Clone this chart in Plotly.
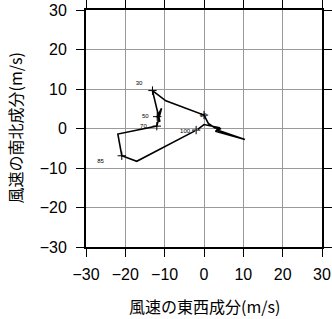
import plotly.graph_objects as go

# Hodograph wind components (m/s)
u_wind = [-2.3, -17.1, -20.9, -21.9, -12.0, -10.8, -11.9, -11.2, -13.1, -9.7, 0.0, 1.1, 2.8, 4.3, 2.9, 10.4, 3.2, 4.0, 0.0, -1.6]
v_wind = [-0.6, -8.3, -6.9, -1.4, 0.6, 5.1, 3.0, 1.7, 9.6, 7.0, 3.4, 1.3, 0.15, 0.0, -0.7, -2.8, -0.3, 0.2, 1.0, -0.2]

# Level labels (pressure / 10 hPa) and their positions
level_labels = ["100", "85", "70", "50", "30", "10"]
level_u = [-2.0, -20.9, -12.0, -11.9, -13.1, 0.0]
level_v = [-0.4, -6.9, 0.6, 3.0, 9.6, 3.4]
label_u = [-4.8, -26.3, -15.4, -14.9, -16.5, -0.2]
label_v = [-0.7, -8.3, 0.6, 3.1, 11.3, 3.4]

ticks = [-30, -20, -10, 0, 10, 20, 30]

fig = go.Figure()
fig.add_trace(go.Scatter(x=u_wind, y=v_wind, mode="lines",
                         line=dict(color="black", width=1.6), hoverinfo="skip"))
fig.add_trace(go.Scatter(x=level_u, y=level_v, mode="markers",
                         marker=dict(symbol="cross-thin", size=6, color="black",
                                     line=dict(color="black", width=1)),
                         hoverinfo="skip"))
fig.add_trace(go.Scatter(x=label_u, y=label_v, mode="text", text=level_labels,
                         textfont=dict(size=6, color="black", family="Liberation Sans"),
                         hoverinfo="skip"))

axis_common = dict(
    range=[-30, 30], tickvals=ticks, ticks="outside", ticklen=8, tickwidth=1,
    tickcolor="black", showline=True, linecolor="black", linewidth=2,
    mirror="ticks", showgrid=True, gridcolor="#9a9a9a", gridwidth=1,
    zeroline=False, tickfont=dict(size=16, color="black", family="Liberation Sans"),
    fixedrange=True, automargin=False,
)

title_font = dict(size=16, color="black", family="Noto Sans CJK JP, Liberation Sans")

fig.update_layout(
    width=332, height=319,
    margin=dict(l=86, r=10, t=10, b=72),
    plot_bgcolor="white", paper_bgcolor="white",
    showlegend=False,
    font=dict(family="Liberation Sans, Noto Sans CJK JP", color="black"),
    xaxis=dict(**axis_common, ticklabelstandoff=4),
    yaxis=dict(**axis_common, ticklabelstandoff=6),
    annotations=[
        dict(text="風速の東西成分(m/s)", xref="paper", yref="paper", x=0.5, y=0,
             xanchor="center", yanchor="middle", yshift=-59, showarrow=False,
             font=title_font),
        dict(text="風速の南北成分(m/s)", xref="paper", yref="paper", x=0, y=0.5,
             xanchor="center", yanchor="middle", xshift=-72, textangle=-90,
             showarrow=False, font=title_font),
    ],
)

fig.write_html("out.html")
